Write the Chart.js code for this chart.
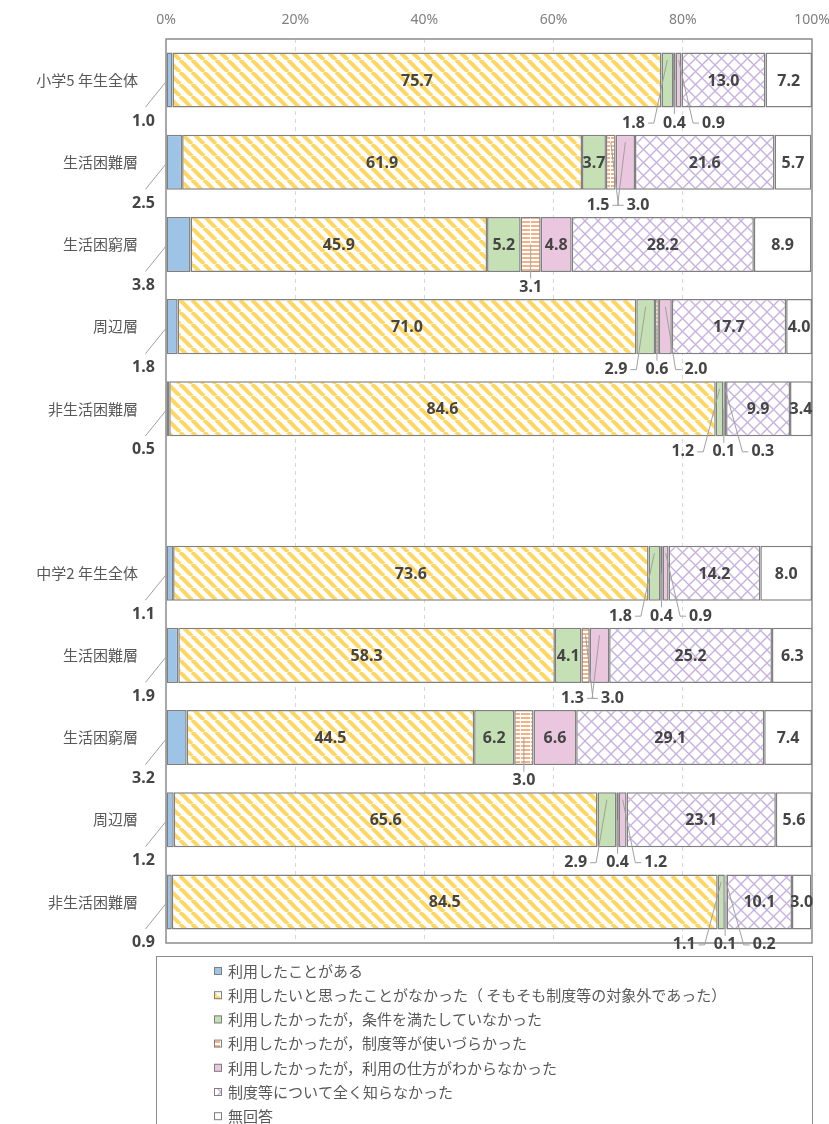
<!DOCTYPE html>
<html lang="ja">
<head>
<meta charset="utf-8">
<title>制度等の利用状況</title>
<script src="https://cdn.jsdelivr.net/npm/chart.js@4.4.1/dist/chart.umd.min.js"></script>
<style>
  body { margin: 0; background: #fff; }
  #wrap { width: 829px; height: 1124px; }
</style>
</head>
<body>
<div id="wrap"><canvas id="myChart" width="829" height="1124"></canvas></div>
<script>
// categories (blank row separates the two groups)
var categories = ['小学5 年生全体', '生活困難層', '生活困窮層', '周辺層', '非生活困難層', '',
                  '中学2 年生全体', '生活困難層', '生活困窮層', '周辺層', '非生活困難層'];

var seriesNames = [
  '利用したことがある',
  '利用したいと思ったことがなかった（ そもそも制度等の対象外であった）',
  '利用したかったが，条件を満たしていなかった',
  '利用したかったが，制度等が使いづらかった',
  '利用したかったが，利用の仕方がわからなかった',
  '制度等について全く知らなかった',
  '無回答'
];

// values (%)
var used        = [1.0, 2.5, 3.8, 1.8, 0.5, null, 1.1, 1.9, 3.2, 1.2, 0.9];
var neverWanted = [75.7, 61.9, 45.9, 71.0, 84.6, null, 73.6, 58.3, 44.5, 65.6, 84.5];
var notEligible = [1.8, 3.7, 5.2, 2.9, 1.2, null, 1.8, 4.1, 6.2, 2.9, 1.1];
var hardToUse   = [0.4, 1.5, 3.1, 0.6, 0.1, null, 0.4, 1.3, 3.0, 0.4, 0.1];
var howToUse    = [0.9, 3.0, 4.8, 2.0, 0.3, null, 0.9, 3.0, 6.6, 1.2, 0.2];
var didNotKnow  = [13.0, 21.6, 28.2, 17.7, 9.9, null, 14.2, 25.2, 29.1, 23.1, 10.1];
var noAnswer    = [7.2, 5.7, 8.9, 4.0, 3.4, null, 8.0, 6.3, 7.4, 5.6, 3.0];

var xTicks = [0, 20, 40, 60, 80, 100];

// --- fill patterns ---
function makeTile(w, h, draw) {
  var c = document.createElement('canvas');
  c.width = w; c.height = h;
  var g = c.getContext('2d');
  g.fillStyle = '#fff';
  g.fillRect(0, 0, w, h);
  draw(g, w, h);
  return document.getElementById('myChart').getContext('2d').createPattern(c, 'repeat');
}

var yellowStripes = makeTile(12, 12, function (g, w, h) {
  g.strokeStyle = '#FFD660';
  g.lineWidth = 4;
  [-w, 0, w].forEach(function (x0) {
    g.beginPath(); g.moveTo(x0, 0); g.lineTo(x0 + w, h); g.stroke();
  });
});

var orangeLines = makeTile(10, 4, function (g) {
  g.fillStyle = '#F4B183';
  g.fillRect(1, 1, 9, 2);
});

var purpleLattice = makeTile(13, 13, function (g, w, h) {
  g.strokeStyle = '#C7B0E0';
  g.lineWidth = 1.3;
  [-w, 0, w].forEach(function (x0) {
    g.beginPath(); g.moveTo(x0, 0); g.lineTo(x0 + w, h); g.stroke();
    g.beginPath(); g.moveTo(x0, h); g.lineTo(x0 + w, 0); g.stroke();
  });
});

var fills = ['#9DC3E6', yellowStripes, '#C5E0B4', orangeLines, '#EBC6DF', purpleLattice, '#FFFFFF'];
var values = [used, neverWanted, notEligible, hardToUse, howToUse, didNotKnow, noAnswer];

var datasets = values.map(function (arr, i) {
  return {
    label: seriesNames[i],
    data: arr,
    backgroundColor: fills[i],
    borderColor: '#808080',
    borderWidth: 1.5,
    borderSkipped: false,
    barPercentage: 0.67,
    categoryPercentage: 1
  };
});

var numFont = 'bold 16px "Noto Sans", "DejaVu Sans", sans-serif';

// white page
var bgPlugin = {
  id: 'bg',
  beforeDraw: function (chart) {
    var ctx = chart.ctx;
    ctx.save();
    ctx.fillStyle = '#fff';
    ctx.fillRect(0, 0, chart.width, chart.height);
    ctx.restore();
  }
};

// plot frame
var framePlugin = {
  id: 'frame',
  beforeDatasetsDraw: function (chart) {
    var a = chart.chartArea, ctx = chart.ctx;
    ctx.save();
    ctx.strokeStyle = '#8C8C8C';
    ctx.lineWidth = 1.5;
    ctx.strokeRect(a.left, a.top, a.right - a.left, a.bottom - a.top);
    ctx.restore();
  }
};

// value labels and leader lines
var labelPlugin = {
  id: 'vals',
  afterDatasetsDraw: function (chart) {
    var ctx = chart.ctx;
    ctx.save();
    ctx.font = numFont;
    ctx.textBaseline = 'middle';
    var n = chart.data.labels.length;

    function leader(pts) {
      ctx.beginPath();
      ctx.moveTo(pts[0][0], pts[0][1]);
      for (var k = 1; k < pts.length; k++) ctx.lineTo(pts[k][0], pts[k][1]);
      ctx.strokeStyle = '#A0A0A0';
      ctx.lineWidth = 1;
      ctx.stroke();
    }

    for (var i = 0; i < n; i++) {
      if (chart.data.datasets[0].data[i] == null) continue;
      var outside = [];
      var yc = 0;
      chart.data.datasets.forEach(function (ds, d) {
        var el = chart.getDatasetMeta(d).data[i];
        var p = el.getProps(['x', 'y', 'base'], true);
        var v = ds.data[i];
        var cx = (p.x + p.base) / 2;
        var text = v.toFixed(1);
        yc = p.y;
        if (d === 0) {
          var left = Math.min(p.x, p.base);
          leader([[left, p.y + 1], [left - 21, p.y + 27]]);
          ctx.fillStyle = '#454545';
          ctx.textAlign = 'center';
          ctx.fillText(text, left - 23, p.y + 41);
        } else if (d >= 2 && d <= 4 && v < 3.5) {
          outside.push({ cx: cx, text: text });
        } else {
          ctx.fillStyle = '#454545';
          ctx.textAlign = 'center';
          ctx.fillText(text, cx, p.y + 1);
        }
      });

      if (outside.length) {
        var mean = outside.reduce(function (s, o) { return s + o.cx; }, 0) / outside.length;
        var ly = yc + 43;
        outside.forEach(function (o, j) {
          var lx = mean + (j - (outside.length - 1) / 2) * 40;
          var hw = ctx.measureText(o.text).width / 2;
          if (Math.abs(lx - o.cx) < 6) {
            leader([[o.cx, yc], [o.cx, ly - 9]]);
            lx = o.cx;
          } else {
            var s = o.cx > lx ? 1 : -1;
            var edge = lx + s * (hw + 3);
            leader([[o.cx, yc - 20], [edge + s * 6, ly], [edge, ly]]);
          }
          ctx.fillStyle = '#454545';
          ctx.textAlign = 'center';
          ctx.fillText(o.text, lx, ly);
        });
      }
    }
    ctx.restore();
  }
};

// boxed legend under the plot
var legendPlugin = {
  id: 'boxLegend',
  afterDraw: function (chart) {
    var ctx = chart.ctx;
    var a = chart.chartArea;
    var top = a.bottom + 13;
    ctx.save();
    ctx.strokeStyle = '#8C8C8C';
    ctx.lineWidth = 1;
    ctx.strokeRect(156.5, top + 0.5, a.right - 156, chart.height - top + 10);
    ctx.font = '15px "Noto Sans CJK JP", sans-serif';
    ctx.textBaseline = 'middle';
    ctx.textAlign = 'left';
    chart.data.datasets.forEach(function (ds, i) {
      var y = top + 15 + i * 24.2;
      ctx.fillStyle = ds.backgroundColor;
      ctx.fillRect(214, y - 4, 8, 8);
      ctx.strokeStyle = '#7F7F7F';
      ctx.strokeRect(214.5, y - 3.5, 7, 7);
      ctx.fillStyle = '#595959';
      ctx.fillText(ds.label, 228, y);
    });
    ctx.restore();
  }
};

var ctx = document.getElementById('myChart');
var myChart = new Chart(ctx, {
  type: 'bar',
  data: { labels: categories, datasets: datasets },
  plugins: [bgPlugin, framePlugin, labelPlugin, legendPlugin],
  options: {
    indexAxis: 'y',
    responsive: false,
    animation: false,
    layout: { padding: { top: 0, left: 0, right: 0, bottom: 181 } },
    plugins: { legend: { display: false }, tooltip: { enabled: false } },
    scales: {
      x: {
        position: 'top',
        stacked: true,
        min: 0,
        max: 100,
        afterBuildTicks: function (scale) {
          scale.ticks = xTicks.map(function (v) { return { value: v }; });
        },
        afterFit: function (scale) {
          scale.height = 39;
          scale.paddingRight = 17;
          scale.paddingLeft = 0;
        },
        ticks: {
          padding: 11,
          color: '#7F7F7F',
          font: { family: '"Noto Sans", sans-serif', size: 14 },
          callback: function (v) { return v + '%'; }
        },
        grid: {
          color: function (c) {
            return (c.tick && (c.tick.value === 0 || c.tick.value === 100)) ? 'rgba(0,0,0,0)' : '#D9D9D9';
          },
          drawTicks: false,
          lineWidth: 1
        },
        border: { display: false, dash: [4, 4] }
      },
      y: {
        stacked: true,
        afterFit: function (scale) { scale.width = 166; },
        ticks: {
          padding: 20,
          color: '#595959',
          font: { family: '"Noto Sans CJK JP", sans-serif', size: 15 }
        },
        grid: { display: false },
        border: { display: false }
      }
    }
  }
});
</script>
</body>
</html>
